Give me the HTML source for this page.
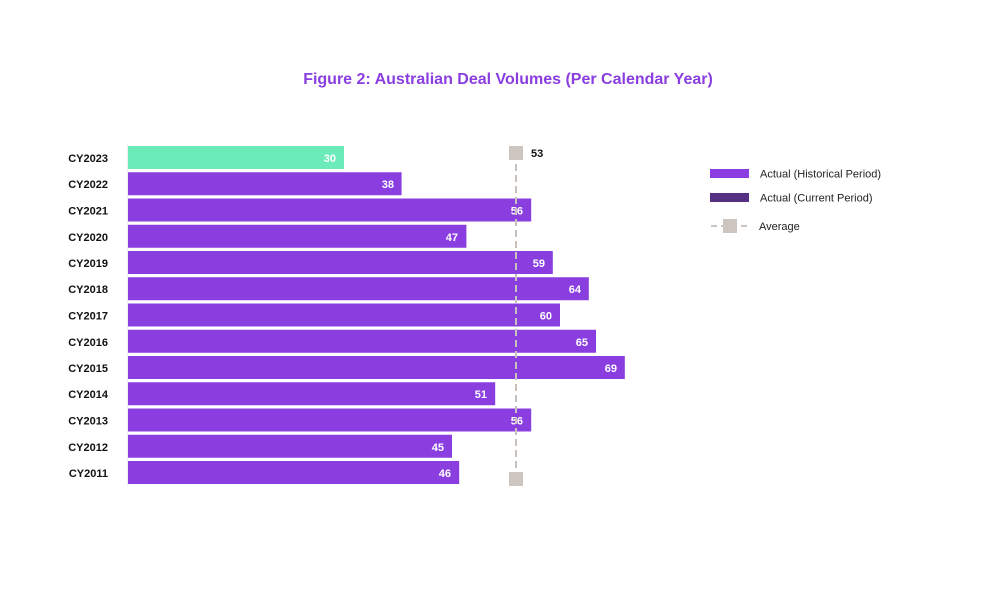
<!DOCTYPE html>
<html><head><style>
body{margin:0;background:#fff;}
svg text{font-family:"Liberation Sans",sans-serif;}
</style></head><body>
<svg width="984" height="588" viewBox="0 0 984 588" xmlns="http://www.w3.org/2000/svg">
<text x="508" y="84" text-anchor="middle" font-size="16" font-weight="bold" fill="#8a3ee0">Figure 2: Australian Deal Volumes (Per Calendar Year)</text>
<line x1="127.5" y1="144" x2="127.5" y2="486" stroke="#eee" stroke-width="1"/>
<g font-size="11" font-weight="bold">
<rect x="128" y="146" width="216" height="23" fill="#6aebb9"/>
<rect x="128" y="172.25" width="273.6" height="23" fill="#8a3ee0"/>
<rect x="128" y="198.5" width="403.2" height="23" fill="#8a3ee0"/>
<rect x="128" y="224.75" width="338.4" height="23" fill="#8a3ee0"/>
<rect x="128" y="251" width="424.8" height="23" fill="#8a3ee0"/>
<rect x="128" y="277.25" width="460.8" height="23" fill="#8a3ee0"/>
<rect x="128" y="303.5" width="432" height="23" fill="#8a3ee0"/>
<rect x="128" y="329.75" width="468" height="23" fill="#8a3ee0"/>
<rect x="128" y="356" width="496.8" height="23" fill="#8a3ee0"/>
<rect x="128" y="382.25" width="367.2" height="23" fill="#8a3ee0"/>
<rect x="128" y="408.5" width="403.2" height="23" fill="#8a3ee0"/>
<rect x="128" y="434.75" width="324" height="23" fill="#8a3ee0"/>
<rect x="128" y="461" width="331.2" height="23" fill="#8a3ee0"/>
<g fill="#fff" text-anchor="end">
<text x="336" y="162">30</text>
<text x="394" y="188">38</text>
<text x="523" y="214.5">56</text>
<text x="458" y="241">47</text>
<text x="545" y="267">59</text>
<text x="581" y="293">64</text>
<text x="552" y="319.5">60</text>
<text x="588" y="346">65</text>
<text x="617" y="372">69</text>
<text x="487" y="398">51</text>
<text x="523" y="424.5">56</text>
<text x="444" y="451">45</text>
<text x="451" y="477">46</text>
</g>
<g fill="#111" text-anchor="end">
<text x="108" y="162">CY2023</text>
<text x="108" y="188">CY2022</text>
<text x="108" y="214.5">CY2021</text>
<text x="108" y="241">CY2020</text>
<text x="108" y="267">CY2019</text>
<text x="108" y="293">CY2018</text>
<text x="108" y="319.5">CY2017</text>
<text x="108" y="346">CY2016</text>
<text x="108" y="372">CY2015</text>
<text x="108" y="398">CY2014</text>
<text x="108" y="424.5">CY2013</text>
<text x="108" y="451">CY2012</text>
<text x="108" y="477">CY2011</text>
</g>
</g>
<line x1="516" y1="153" x2="516" y2="479" stroke="#c9c1bb" stroke-width="2" stroke-dasharray="7,4"/>
<rect x="509" y="146" width="14" height="14" fill="#cdc5bf"/>
<rect x="509" y="472" width="14" height="14" fill="#cdc5bf"/>
<text x="531" y="157" font-size="11" font-weight="bold" fill="#111">53</text>
<rect x="710" y="169" width="39" height="9" fill="#8a3ee0"/>
<text x="760" y="177.5" font-size="11" fill="#222">Actual (Historical Period)</text>
<rect x="710" y="193" width="39" height="9" fill="#553083"/>
<text x="760" y="201.5" font-size="11" fill="#222">Actual (Current Period)</text>
<line x1="711" y1="226" x2="749" y2="226" stroke="#cdc5bf" stroke-width="2" stroke-dasharray="6,4"/>
<rect x="723" y="219" width="14" height="14" fill="#cdc5bf"/>
<text x="759" y="230" font-size="11" fill="#222">Average</text>
</svg>
</body></html>
